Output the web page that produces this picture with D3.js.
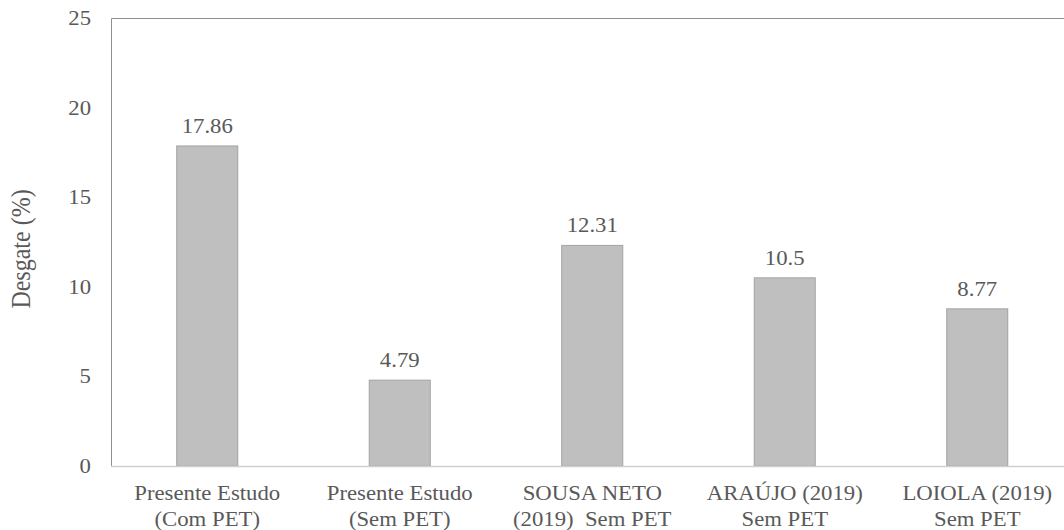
<!DOCTYPE html>
<html>
<head>
<meta charset="utf-8">
<script src="https://cdn.jsdelivr.net/npm/d3@7"></script>
<style>
  html, body { margin: 0; padding: 0; background: #fff; }
</style>
</head>
<body>
<svg id="chart" width="1064" height="530"></svg>
<script>
// Wear (%) per study
const categories = [
  ["Presente Estudo", "(Com PET)"],
  ["Presente Estudo", "(Sem PET)"],
  ["SOUSA NETO", "(2019)  Sem PET"],
  ["ARAÚJO (2019)", "Sem PET"],
  ["LOIOLA (2019)", "Sem PET"]
];
const values = [17.86, 4.79, 12.31, 10.5, 8.77];
const valueLabels = ["17.86", "4.79", "12.31", "10.5", "8.77"];
const yTicks = [0, 5, 10, 15, 20, 25];
const yTitle = "Desgate (%)";

const FONT = "'Liberation Serif', 'Times New Roman', Times, serif";
const TEXT_COLOR = "#595959";
const FONT_SIZE = 20.5;
const stretch = 1.11;  // slightly widened lettering

const svg = d3.select("#chart");
const m = { left: 111, top: 18, right: 1073.5, bottom: 466 };

const x = d3.scaleBand()
  .domain(d3.range(categories.length))
  .range([m.left, m.right])
  .paddingInner(0.683)
  .paddingOuter(0.3415);

const y = d3.scaleLinear().domain([0, 25]).range([m.bottom, m.top]);

// plot frame
svg.append("path")
  .attr("d", `M${m.left + 0.5},${m.bottom}V${m.top + 0.5}H${m.right}`)
  .attr("fill", "none")
  .attr("stroke", "#8f8f8f")
  .attr("stroke-width", 1);

// bars
svg.selectAll("rect.bar")
  .data(values)
  .join("rect")
  .attr("class", "bar")
  .attr("x", (d, i) => x(i))
  .attr("y", d => y(d))
  .attr("width", x.bandwidth())
  .attr("height", d => y(0) - y(d))
  .attr("fill", "#bfbfbf")
  .attr("stroke", "#a3a3a3")
  .attr("stroke-width", 1);

// baseline
svg.append("line")
  .attr("x1", m.left).attr("x2", m.right)
  .attr("y1", y(0) + 0.5).attr("y2", y(0) + 0.5)
  .attr("stroke", "#cfcfcf")
  .attr("stroke-width", 1.5);

function label(g, cx, cy, str, anchor) {
  return g.append("text")
    .attr("transform", `translate(${cx},${cy}) scale(${stretch},1)`)
    .attr("text-anchor", anchor || "middle")
    .attr("font-family", FONT)
    .attr("font-size", FONT_SIZE)
    .attr("fill", TEXT_COLOR)
    .style("white-space", "pre")
    .text(str);
}

// y tick labels
const yAxis = svg.append("g");
yTicks.forEach(t => {
  label(yAxis, 91, y(t) + 7, String(t), "end");
});

// y title
svg.append("text")
  .attr("transform", `translate(30,249) rotate(-90) scale(1,${stretch})`)
  .attr("text-anchor", "middle")
  .attr("font-family", FONT)
  .attr("font-size", 24)
  .attr("fill", TEXT_COLOR)
  .text(yTitle);

// value labels
const labels = svg.append("g");
values.forEach((v, i) => {
  label(labels, x(i) + x.bandwidth() / 2, y(v) - 13, valueLabels[i]);
});

// category labels
const cats = svg.append("g");
categories.forEach((lines, i) => {
  lines.forEach((ln, j) => {
    label(cats, x(i) + x.bandwidth() / 2, 500 + j * 26, ln);
  });
});
</script>
</body>
</html>
